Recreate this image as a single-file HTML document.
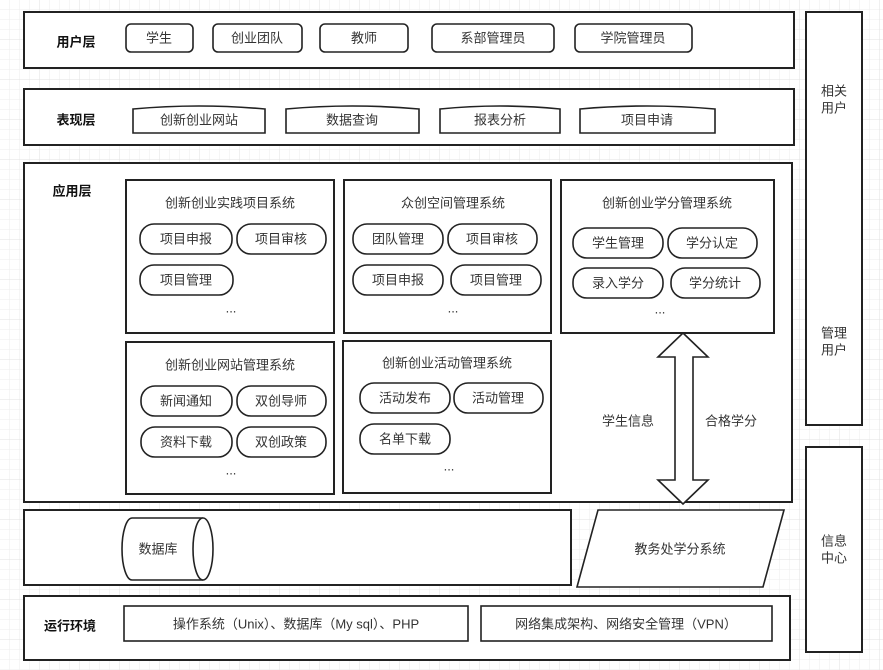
<!DOCTYPE html>
<html><head><meta charset="utf-8"><style>
html,body{margin:0;padding:0;background:#fff}
svg{display:block}
text{font-family:"Liberation Sans","Noto Sans CJK SC",sans-serif;font-size:13px;fill:#333;text-anchor:middle;dominant-baseline:central}
.b{font-weight:bold;fill:#111}
.s{fill:#fff;stroke:#222;stroke-width:2}
.p{fill:#fff;stroke:#222;stroke-width:1.6}
</style></head><body>
<svg width="883" height="670" viewBox="0 0 883 670" xmlns="http://www.w3.org/2000/svg">
<defs><pattern id="g" width="10" height="10" patternUnits="userSpaceOnUse"><path d="M10 0V10H0" fill="none" stroke="#eee" stroke-width="1"/></pattern>
<pattern id="G" width="40" height="40" patternUnits="userSpaceOnUse"><rect width="40" height="40" fill="url(#g)"/><path d="M40 0V40H0" fill="none" stroke="#e2e2e2" stroke-width="1"/></pattern></defs>
<rect width="883" height="670" fill="url(#G)"/>

<!-- user layer -->
<rect class="s" x="24" y="12" width="770" height="56"/>
<text class="b" x="76" y="42">用户层</text>
<rect class="p" x="126" y="24" width="67" height="28" rx="5"/><text x="159" y="38">学生</text>
<rect class="p" x="213" y="24" width="89" height="28" rx="5"/><text x="257" y="38">创业团队</text>
<rect class="p" x="320" y="24" width="88" height="28" rx="5"/><text x="364" y="38">教师</text>
<rect class="p" x="432" y="24" width="122" height="28" rx="5"/><text x="493" y="38">系部管理员</text>
<rect class="p" x="575" y="24" width="117" height="28" rx="5"/><text x="633" y="38">学院管理员</text>

<!-- presentation -->
<rect class="s" x="24" y="89" width="770" height="56"/>
<text class="b" x="76" y="120">表现层</text>
<path class="p" d="M133 133V109Q199 103 265 109V133Z"/><text x="199" y="120">创新创业网站</text>
<path class="p" d="M286 133V109Q352 103 419 109V133Z"/><text x="352" y="120">数据查询</text>
<path class="p" d="M440 133V109Q500 103 560 109V133Z"/><text x="500" y="120">报表分析</text>
<path class="p" d="M580 133V109Q647 103 715 109V133Z"/><text x="647" y="120">项目申请</text>

<!-- app layer -->
<rect class="s" x="24" y="163" width="768" height="339"/>
<text class="b" x="72" y="191">应用层</text>

<rect class="s" x="126" y="180" width="208" height="153"/>
<text x="230" y="203">创新创业实践项目系统</text>
<rect class="p" x="140" y="224" width="92" height="30" rx="14"/><text x="186" y="239">项目申报</text>
<rect class="p" x="237" y="224" width="89" height="30" rx="14"/><text x="281" y="239">项目审核</text>
<rect class="p" x="140" y="265" width="93" height="30" rx="14"/><text x="186" y="280">项目管理</text>
<text x="231" y="308">...</text>

<rect class="s" x="344" y="180" width="207" height="153"/>
<text x="453" y="203">众创空间管理系统</text>
<rect class="p" x="353" y="224" width="90" height="30" rx="14"/><text x="398" y="239">团队管理</text>
<rect class="p" x="448" y="224" width="89" height="30" rx="14"/><text x="492" y="239">项目审核</text>
<rect class="p" x="353" y="265" width="90" height="30" rx="14"/><text x="398" y="280">项目申报</text>
<rect class="p" x="451" y="265" width="90" height="30" rx="14"/><text x="496" y="280">项目管理</text>
<text x="453" y="308">...</text>

<rect class="s" x="561" y="180" width="213" height="153"/>
<text x="667" y="203">创新创业学分管理系统</text>
<rect class="p" x="573" y="228" width="90" height="30" rx="14"/><text x="618" y="243">学生管理</text>
<rect class="p" x="668" y="228" width="89" height="30" rx="14"/><text x="712" y="243">学分认定</text>
<rect class="p" x="573" y="268" width="90" height="30" rx="14"/><text x="618" y="283">录入学分</text>
<rect class="p" x="671" y="268" width="89" height="30" rx="14"/><text x="715" y="283">学分统计</text>
<text x="660" y="309">...</text>

<rect class="s" x="126" y="342" width="208" height="152"/>
<text x="230" y="365">创新创业网站管理系统</text>
<rect class="p" x="141" y="386" width="91" height="30" rx="14"/><text x="186" y="401">新闻通知</text>
<rect class="p" x="237" y="386" width="89" height="30" rx="14"/><text x="281" y="401">双创导师</text>
<rect class="p" x="141" y="427" width="91" height="30" rx="14"/><text x="186" y="442">资料下载</text>
<rect class="p" x="237" y="427" width="89" height="30" rx="14"/><text x="281" y="442">双创政策</text>
<text x="231" y="470">...</text>

<rect class="s" x="343" y="341" width="208" height="152"/>
<text x="447" y="363">创新创业活动管理系统</text>
<rect class="p" x="360" y="383" width="90" height="30" rx="14"/><text x="405" y="398">活动发布</text>
<rect class="p" x="454" y="383" width="89" height="30" rx="14"/><text x="498" y="398">活动管理</text>
<rect class="p" x="360" y="424" width="90" height="30" rx="14"/><text x="405" y="439">名单下载</text>
<text x="449" y="466">...</text>

<path class="p" d="M683 333L708 357H693V480H708L683 504L658 480H675V357H658Z"/>
<text x="628" y="421">学生信息</text>
<text x="731" y="421">合格学分</text>

<!-- data layer -->
<rect class="s" x="24" y="510" width="547" height="75"/>
<path class="p" d="M132 518H203A10 31 0 0 1 203 580H132A10 31 0 0 1 132 518Z"/>
<path class="p" d="M203 518A10 31 0 0 0 203 580" fill="none"/>
<text x="158" y="549">数据库</text>
<path class="p" d="M598 510H784L763 587H577Z"/>
<text x="680" y="549">教务处学分系统</text>

<!-- runtime -->
<rect class="s" x="24" y="596" width="766" height="64"/>
<text class="b" x="70" y="626">运行环境</text>
<rect class="p" x="124" y="606" width="344" height="35"/><text x="296" y="624">操作系统（Unix）、数据库（My sql）、PHP</text>
<rect class="p" x="481" y="606" width="291" height="35"/><text x="626" y="624">网络集成架构、网络安全管理（VPN）</text>

<!-- right -->
<rect class="s" x="806" y="12" width="56" height="413"/>
<text x="834" y="91">相关</text><text x="834" y="108">用户</text>
<text x="834" y="333">管理</text><text x="834" y="350">用户</text>
<rect class="s" x="806" y="447" width="56" height="205"/>
<text x="834" y="541">信息</text><text x="834" y="558">中心</text>
</svg>
</body></html>
